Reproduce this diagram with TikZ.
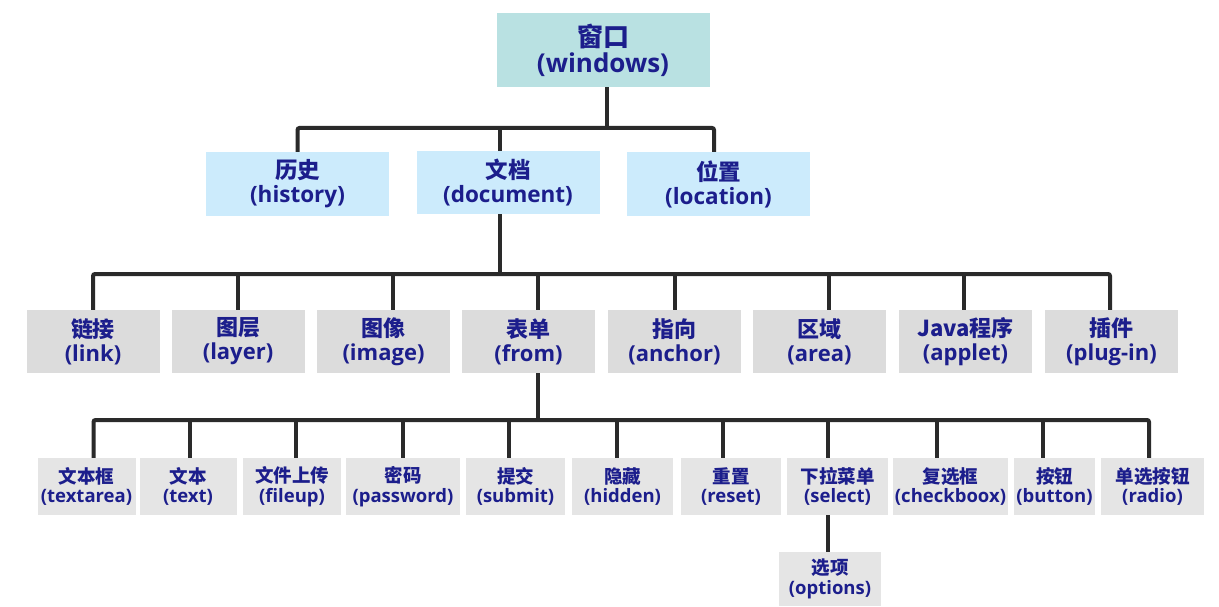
\documentclass[tikz,border=0pt]{standalone}
\usepackage{fontspec}
\setmainfont{Open Sans}[BoldFont={* Bold}]
\newfontfamily\cjk{Noto Sans CJK SC}
\definecolor{navy}{RGB}{28,30,140}
\definecolor{rootc}{RGB}{185,225,226}
\definecolor{lvtwo}{RGB}{204,235,252}
\definecolor{lvthree}{RGB}{220,220,220}
\definecolor{lvfour}{RGB}{229,229,229}
\definecolor{linec}{RGB}{42,42,42}
\newcommand\twolines[2]{{\cjk #1}\\#2}
\tikzset{
  box/.style={inner sep=0pt, align=center, text=navy},
  rootbox/.style={box, fill=rootc, minimum width=213pt, minimum height=74pt,
    font=\bfseries\fontsize{26}{26}\selectfont},
  twobox/.style={box, fill=lvtwo, minimum width=183pt, minimum height=64pt,
    font=\bfseries\fontsize{22.5}{24}\selectfont},
  threebox/.style={box, fill=lvthree, minimum width=133pt, minimum height=63pt,
    font=\bfseries\fontsize{22}{24}\selectfont},
  fourbox/.style={box, fill=lvfour, minimum height=57pt,
    font=\bfseries\fontsize{18.5}{19.5}\selectfont},
  conn/.style={draw=linec, line width=4pt, rounded corners=2pt}
}
\begin{document}
\begin{tikzpicture}[x=1pt,y=-1pt]
\useasboundingbox[fill=white] (0,0) rectangle (1219,607);

% root
\node[rootbox] (root) at (603,50) {\twolines{窗口}{(windows)}};

% second level
\node[twobox] (hist) at (297.5,184) {\twolines{历史}{(history)}};
\node[twobox, minimum height=63pt] (doc) at (508,182.5) {\twolines{文档}{(document)}};
\node[twobox] (loc) at (718.5,184) {\twolines{位置}{(location)}};

% third level
\node[threebox] (link)   at (93,341.5)    {\twolines{链接}{(link)}};
\node[threebox] (layer)  at (238,341.5)   {\twolines{图层}{(layer)}};
\node[threebox] (image)  at (383.5,341.5) {\twolines{图像}{(image)}};
\node[threebox] (form)   at (528.5,341.5) {\twolines{表单}{(from)}};
\node[threebox] (anchor) at (674.5,341.5) {\twolines{指向}{(anchor)}};
\node[threebox] (area)   at (819.5,341.5) {\twolines{区域}{(area)}};
\node[threebox] (applet) at (965.5,341.5) {\twolines{Java程序}{(applet)}};
\node[threebox] (plug)   at (1111.5,341.5){\twolines{插件}{(plug-in)}};

% fourth level
\node[fourbox, minimum width=98pt]  (tarea) at (86.5,486.5)  {\twolines{文本框}{(textarea)}};
\node[fourbox, minimum width=97pt]  (text)  at (188,486.5)   {\twolines{文本}{(text)}};
\node[fourbox, minimum width=98pt]  (fup)   at (292,486.5)   {\twolines{文件上传}{(fileup)}};
\node[fourbox, minimum width=114pt] (pwd)   at (403,486.5)   {\twolines{密码}{(password)}};
\node[fourbox, minimum width=99pt]  (sub)   at (515.5,486.5) {\twolines{提交}{(submit)}};
\node[fourbox, minimum width=101pt] (hid)   at (622.5,486.5) {\twolines{隐藏}{(hidden)}};
\node[fourbox, minimum width=100pt] (rst)   at (731,486.5)   {\twolines{重置}{(reset)}};
\node[fourbox, minimum width=101pt] (sel)   at (837.5,486.5) {\twolines{下拉菜单}{(select)}};
\node[fourbox, minimum width=115pt] (chk)   at (950.5,486.5) {\twolines{复选框}{(checkboox)}};
\node[fourbox, minimum width=81pt]  (btn)   at (1054.5,486.5){\twolines{按钮}{(button)}};
\node[fourbox, minimum width=103pt] (rad)   at (1152.5,486.5){\twolines{单选按钮}{(radio)}};
\node[fourbox, minimum width=102pt, minimum height=54pt] (opt) at (830,579) {\twolines{选项}{(options)}};

% root -> second level
\coordinate (j1) at (607,128);
\draw[conn] (root.south -| j1) -- (j1);
\draw[conn] (hist.north) |- (j1) -| ([xshift=-4.5pt]loc.north);
\draw[conn] ([xshift=-8pt]doc.north) -- ([xshift=-8pt]doc.north |- j1);

% document -> third level
\coordinate (j2) at (500,274);
\draw[conn] ([xshift=-8pt]doc.south) -- (j2);
\draw[conn] (link.north) |- (j2) -| ([xshift=-1.5pt]plug.north);
\foreach \n/\d in {layer/0, image/9, form/9.5, anchor/0, area/9.5, applet/-1.5}
  \draw[conn] ([xshift=\d pt]\n.north) -- ([xshift=\d pt]\n.north |- j2);

% form -> fourth level
\coordinate (j3) at (538,420);
\draw[conn] ([xshift=9.5pt]form.south) -- (j3);
\draw[conn] ([xshift=7pt]tarea.north) |- (j3) -| ([xshift=-3.5pt]rad.north);
\foreach \n/\d in {text/2, fup/4, pwd/0, sub/-6.5, hid/-6, rst/-8, sel/-9.5, chk/-13.5, btn/-11.5}
  \draw[conn] ([xshift=\d pt]\n.north) -- ([xshift=\d pt]\n.north |- j3);

% select -> options
\draw[conn] ([xshift=-2pt]opt.north) -- ([xshift=-2pt]opt.north |- sel.south);
\end{tikzpicture}
\end{document}
